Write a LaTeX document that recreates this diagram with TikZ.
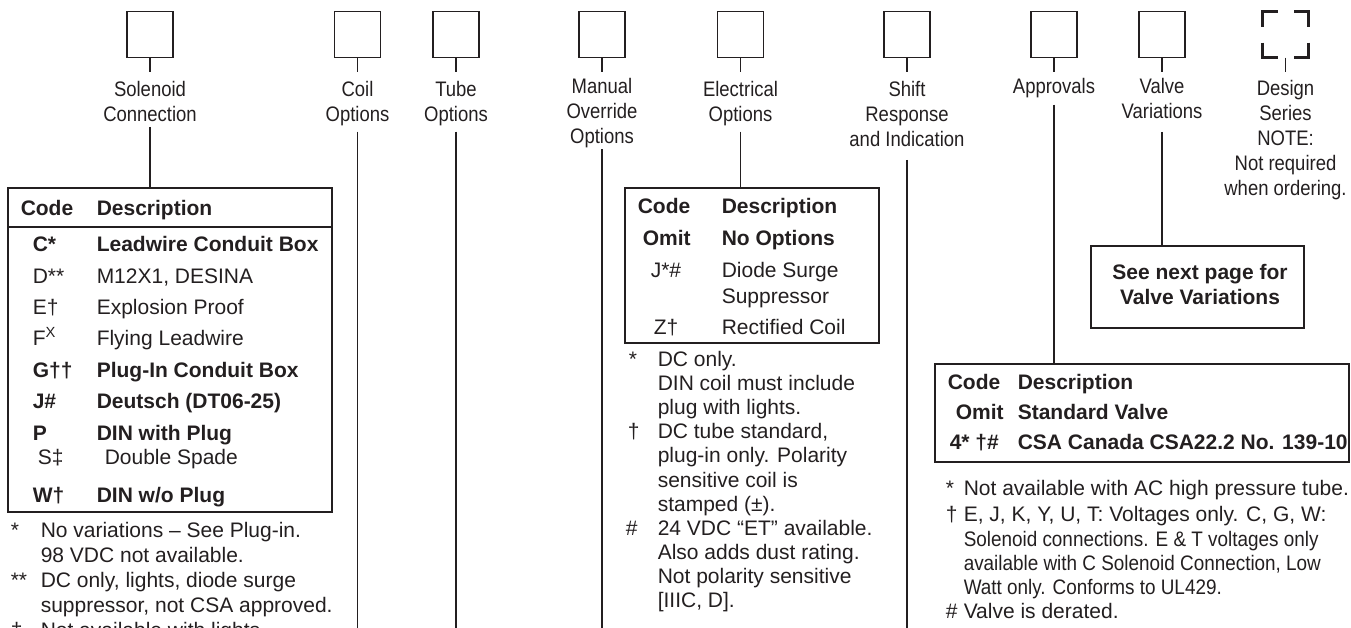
\documentclass[tikz,border=0pt]{standalone}
\usepackage{fontspec}
\setmainfont{Liberation Sans}
\newfontfamily\condf[FakeStretch=0.88]{Liberation Sans}
\newfontfamily\ftcond[FakeStretch=0.9]{Liberation Sans}
\definecolor{ink}{RGB}{35,31,32}
\begin{document}
\begin{tikzpicture}[x=1pt,y=-1pt,line width=1.5pt,draw=ink,text=ink,
  ordbox/.style={draw,line width=1.8pt,minimum width=46pt,minimum height=46pt,inner sep=0pt,outer sep=0pt},
  lbl/.style={font=\condf\fontsize{21}{25}\selectfont,align=center,anchor=north,inner sep=0pt},
  frame/.style={draw,line width=1.8pt,inner sep=0pt,outer sep=0pt},
  tx/.style={anchor=base west,inner sep=0pt,font=\fontsize{21}{25}\selectfont},
  tb/.style={tx,font=\fontsize{21}{25}\selectfont\bfseries},
  tc/.style={tx,font=\ftcond\fontsize{21}{25}\selectfont}]
\useasboundingbox (0,0) rectangle (1351,627);
\coordinate (bot) at (0,640);
\coordinate (hl) at (0,227);
% order boxes
\node[ordbox] (b1) at (150,34.5) {};
\node[ordbox] (b2) at (357.5,34.5) {};
\node[ordbox] (b3) at (456,34.5) {};
\node[ordbox] (b4) at (602,34.5) {};
\node[ordbox] (b5) at (740.5,34.5) {};
\node[ordbox] (b6) at (907,34.5) {};
\node[ordbox] (b7) at (1054,34.5) {};
\node[ordbox] (b8) at (1162,34.5) {};
\node[ordbox,draw=none] (b9) at (1285.5,34.5) {};
\draw[line width=2.2pt] ([yshift=-15pt]b9.north west) -- (b9.north west) -- ([xshift=15pt]b9.north west);
\draw[line width=2.2pt] ([yshift=-15pt]b9.north east) -- (b9.north east) -- ([xshift=-15pt]b9.north east);
\draw[line width=2.2pt] ([yshift=15pt]b9.south west) -- (b9.south west) -- ([xshift=15pt]b9.south west);
\draw[line width=2.2pt] ([yshift=15pt]b9.south east) -- (b9.south east) -- ([xshift=-15pt]b9.south east);
\foreach \b in {b1,b2,b3,b4,b5,b6,b7,b8,b9} \draw (\b.south) -- ++(0,14);
% labels
\node[lbl] (L1) at (150,80.5) {Solenoid\\Connection};
\node[lbl] (L2) at (357.5,80.5) {Coil\\Options};
\node[lbl] (L3) at (456,80.5) {Tube\\Options};
\node[lbl] (L4) at (602,77.5) {Manual\\Override\\Options};
\node[lbl] (L5) at (740.5,80.5) {Electrical\\Options};
\node[lbl] (L6) at (907,80.5) {Shift\\Response\\and Indication};
\node[lbl] (L7) at (1054,77.5) {Approvals};
\node[lbl] (L8) at (1162,77.5) {Valve\\Variations};
\node[lbl] (L9) at (1285.5,79.5) {Design\\Series\\NOTE:\\Not required\\when ordering.};
% frames
\node[frame,minimum width=324pt,minimum height=324pt] (T1) at (170,350) {};
\node[frame,minimum width=254pt,minimum height=155pt] (T2) at (752,265.5) {};
\node[frame,minimum width=414pt,minimum height=98pt] (T3) at (1142,413) {};
\node[frame,minimum width=213pt,minimum height=82pt] (VV) at (1197.5,287) {};
\node[font=\fontsize{21}{25}\selectfont\bfseries,align=center,anchor=north,inner sep=0pt] (vvt) at (1200,263.5) {See next page for\\Valve Variations};
\draw[line width=2.5pt] (T1.west |- hl) -- (T1.east |- hl);
% connectors
\draw (L1.south) ++(0,4.5) -- (L1.south |- T1.north);
\draw (L2.south) ++(0,5) -- (L2.south |- bot);
\draw (L3.south) ++(0,5) -- (L3.south |- bot);
\draw (L4.south) ++(0,0.5) -- (L4.south |- bot);
\draw (L5.south) ++(0,5) -- (L5.south |- T2.north);
\draw (L6.south) ++(0,12.5) -- (L6.south |- bot);
\draw (L7.south) ++(0,6) -- (L7.south |- T3.north);
\draw (L8.south) ++(0,12.5) -- (L8.south |- VV.north);
% table 1
\node[tb] (a1) at (20,215.5) {Code};
\node[tb] (a2) at (96,215.5) {Description};
\node[tb] (a3) at (32,251.5) {C*};
\node[tb] (a4) at (96,251.5) {Leadwire Conduit Box};
\node[tx] (a5) at (32,283.5) {D**};
\node[tx] (a6) at (96,283.5) {M12X1, DESINA};
\node[tx] (a7) at (32,314.5) {E†};
\node[tx] (a8) at (96,314.5) {Explosion Proof};
\node[tx] (a9) at (32,345.5) {F\textsuperscript{X}};
\node[tx] (a10) at (96,345.5) {Flying Leadwire};
\node[tb] (a11) at (32,377.5) {G††};
\node[tb] (a12) at (96,377.5) {Plug-In Conduit Box};
\node[tb] (a13) at (32,408.5) {J\#};
\node[tb] (a14) at (96,408.5) {Deutsch (DT06-25)};
\node[tb] (a15) at (32,440.5) {P};
\node[tb] (a16) at (96,440.5) {DIN with Plug};
\node[tx] (a17) at (37,464.5) {S‡};
\node[tx] (a18) at (104,464.5) {Double Spade};
\node[tb] (a19) at (32,502.5) {W†};
\node[tb] (a20) at (96,502.5) {DIN w/o Plug};
% footnotes 1
\node[tx] (f1) at (10,537.5) {*};
\node[tx] (f2) at (40,537.5) {No variations – See Plug-in.};
\node[tx] (f3) at (40,562.5) {98 VDC not available.};
\node[tx] (f4) at (10,587.5) {**};
\node[tx] (f5) at (40,587.5) {DC only, lights, diode surge};
\node[tx] (f6) at (40,612.5) {suppressor, not CSA approved.};
\node[tx] (f7) at (10,637.5) {‡};
\node[tx] (f8) at (40,637.5) {Not available with lights.};
% table 2
\node[tb] (c1) at (637,213.5) {Code};
\node[tb] (c2) at (721,213.5) {Description};
\node[tb] (c3) at (642,245.5) {Omit};
\node[tb] (c4) at (721,245.5) {No Options};
\node[tx] (c5) at (650,277.5) {J*\#};
\node[tx] (c6) at (721,277.5) {Diode Surge};
\node[tx] (c7) at (721,303.5) {Suppressor};
\node[tx] (c8) at (653,334.5) {Z†};
\node[tx] (c9) at (721,334.5) {Rectified Coil};
% footnotes 2
\node[tx] (g1) at (628,366.5) {*};
\node[tx] (g2) at (657,366.5) {DC only.};
\node[tx] (g3) at (657,390.5) {DIN coil must include};
\node[tx] (g4) at (657,414.5) {plug with lights.};
\node[tx] (g5) at (627,438.5) {†};
\node[tx] (g6) at (657,438.5) {DC tube standard,};
\node[tx] (g7) at (657,462.5) {plug-in only. Polarity};
\node[tx] (g8) at (657,487) {sensitive coil is};
\node[tx] (g9) at (657,511) {stamped (±).};
\node[tx] (g10) at (625,535) {\#};
\node[tx] (g11) at (657,535) {24 VDC “ET” available.};
\node[tx] (g12) at (657,559.5) {Also adds dust rating.};
\node[tx] (g13) at (657,583.5) {Not polarity sensitive};
\node[tx] (g14) at (657,607.5) {[IIIC, D].};
% table 3
\node[tb] (d1) at (947,389.5) {Code};
\node[tb] (d2) at (1017,389.5) {Description};
\node[tb] (d3) at (955,419.5) {Omit};
\node[tb] (d4) at (1017,419.5) {Standard Valve};
\node[tb] (d5) at (949,449.5) {4* †\#};
\node[tb] (d6) at (1017,449.5) {CSA Canada CSA22.2 No. 139-10};
% footnotes 3
\node[tx] (h1) at (945,495.5) {*};
\node[tx] (h2) at (963,495.5) {Not available with AC high pressure tube.};
\node[tx] (h3) at (945,521) {†};
\node[tx] (h4) at (963,521) {E, J, K, Y, U, T: Voltages only. C, G, W:};
\node[tc] (h5) at (963,546) {Solenoid connections. E \& T voltages only};
\node[tc] (h6) at (963,570.5) {available with C Solenoid Connection, Low};
\node[tc] (h7) at (963,594.5) {Watt only. Conforms to UL429.};
\node[tx] (h8) at (945,618.5) {\#};
\node[tx] (h9) at (963,618.5) {Valve is derated.};
\end{tikzpicture}
\end{document}
